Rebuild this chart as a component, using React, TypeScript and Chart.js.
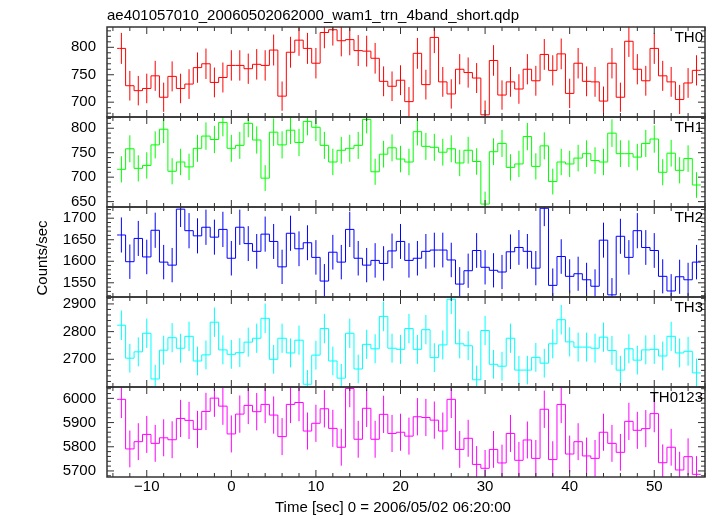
import React, { useEffect, useRef } from 'react';
import { Chart, registerables } from 'chart.js';

Chart.register(...registerables);

const TITLE = 'ae401057010_20060502062000_wam1_trn_4band_short.qdp';
const X_TITLE = 'Time [sec] 0 = 2006/05/02 06:20:00';
const Y_TITLE = 'Counts/sec';

const TIME = [
  -13, -12, -11, -10, -9, -8, -7, -6, -5, -4, -3, -2, -1,
  0, 1, 2, 3, 4, 5, 6, 7, 8, 9,
  10, 11, 12, 13, 14, 15, 16, 17, 18, 19,
  20, 21, 22, 23, 24, 25, 26, 27, 28, 29,
  30, 31, 32, 33, 34, 35, 36, 37, 38, 39,
  40, 41, 42, 43, 44, 45, 46, 47, 48, 49,
  50, 51, 52, 53, 54, 55,
];

const TH0 = [
  798, 730, 721, 725, 748, 709, 747, 725, 733, 763, 770, 736, 745,
  767, 767, 761, 769, 767, 795, 711, 791, 813, 798,
  771, 827, 832, 812, 814, 794, 793, 780, 738, 729,
  740, 701, 789, 732, 818, 737, 715, 760, 754, 744,
  677, 776, 713, 737, 724, 760, 739, 787, 758, 788,
  716, 771, 738, 737, 702, 771, 709, 811, 760, 739,
  798, 748, 737, 705, 735, 758,
];

const TH1 = [
  716, 758, 718, 724, 766, 798, 712, 731, 721, 759, 784, 777, 812,
  759, 765, 810, 776, 698, 792, 766, 796, 771, 814,
  802, 765, 731, 755, 759, 765, 818, 711, 747, 760,
  737, 731, 793, 763, 761, 751, 758, 729, 755, 732,
  645, 752, 769, 720, 727, 783, 722, 764, 691, 731,
  727, 739, 748, 734, 731, 790, 748, 748, 741, 769,
  778, 710, 749, 714, 738, 684,
];

const TH2 = [
  1661, 1599, 1653, 1610, 1672, 1598, 1591, 1721, 1671, 1659, 1679, 1656, 1674,
  1607, 1679, 1641, 1623, 1663, 1646, 1587, 1665, 1629, 1643,
  1609, 1554, 1621, 1598, 1674, 1607, 1591, 1602, 1595, 1624,
  1646, 1602, 1607, 1623, 1626, 1626, 1603, 1547, 1578, 1625,
  1586, 1579, 1575, 1622, 1632, 1623, 1584, 1723, 1544, 1611,
  1565, 1571, 1557, 1542, 1649, 1522, 1658, 1609, 1671, 1632,
  1625, 1565, 1531, 1564, 1557, 1598,
];

const TH3 = [
  2823, 2704, 2727, 2794, 2629, 2733, 2778, 2740, 2783, 2694, 2716, 2834, 2734,
  2718, 2724, 2762, 2776, 2848, 2700, 2776, 2723, 2769, 2610,
  2715, 2811, 2694, 2632, 2794, 2665, 2754, 2738, 2855, 2740,
  2736, 2811, 2736, 2807, 2706, 2752, 2917, 2756, 2749, 2626,
  2804, 2682, 2675, 2776, 2661, 2661, 2707, 2686, 2756, 2843,
  2763, 2744, 2744, 2740, 2780, 2732, 2661, 2738, 2697, 2734,
  2736, 2712, 2783, 2723, 2729, 2651,
];

const TH0123 = [
  5996, 5791, 5821, 5851, 5814, 5837, 5829, 5917, 5909, 5872, 5946, 6001, 5968,
  5853, 5935, 5971, 5945, 5975, 5931, 5842, 5975, 5983, 5865,
  5897, 5957, 5876, 5798, 6041, 5831, 5959, 5831, 5934, 5855,
  5860, 5844, 5924, 5921, 5910, 5865, 5996, 5789, 5835, 5727,
  5711, 5789, 5733, 5855, 5744, 5828, 5752, 5955, 5747, 5975,
  5770, 5821, 5762, 5752, 5860, 5814, 5777, 5905, 5868, 5875,
  5937, 5734, 5798, 5704, 5759, 5686,
];

const X_TICKS = [-10, 0, 10, 20, 30, 40, 50];
const TH0_TICKS = [700, 750, 800];
const TH1_TICKS = [650, 700, 750, 800];
const TH2_TICKS = [1550, 1600, 1650, 1700];
const TH3_TICKS = [2700, 2800, 2900];
const TH0123_TICKS = [5700, 5800, 5900, 6000];

const FONT = '"Liberation Sans", Arial, Helvetica, sans-serif';

const PANELS = [
  { id: 'y0', name: 'TH0', values: TH0, ticks: TH0_TICKS, color: '#ff0000', min: 673, max: 837, major: 50, minor: 10 },
  { id: 'y1', name: 'TH1', values: TH1, ticks: TH1_TICKS, color: '#00ff00', min: 639, max: 823, major: 50, minor: 10 },
  { id: 'y2', name: 'TH2', values: TH2, ticks: TH2_TICKS, color: '#0000ff', min: 1517, max: 1726, major: 50, minor: 10 },
  { id: 'y3', name: 'TH3', values: TH3, ticks: TH3_TICKS, color: '#00ffff', min: 2600, max: 2925, major: 100, minor: 20 },
  { id: 'y4', name: 'TH0123', values: TH0123, ticks: TH0123_TICKS, color: '#ff00ff', min: 5675, max: 6047, major: 100, minor: 20 },
];

const fmtX = (v: number) => (v < 0 ? '\u2212' + Math.abs(v) : String(v));

export default function App() {
  const ref = useRef<HTMLCanvasElement>(null);

  useEffect(() => {
    const canvas = ref.current;
    if (!canvas) return;

    const scales: any = {
      x: {
        type: 'linear',
        position: 'bottom',
        min: -14.7,
        max: 56,
        afterBuildTicks: (s: any) => { s.ticks = X_TICKS.map((v) => ({ value: v })); },
        afterFit: (s: any) => { s.height = 39; },
        ticks: {
          font: { family: FONT, size: 15 },
          color: '#000',
          padding: 1,
          maxRotation: 0,
          autoSkip: false,
          callback: (v: any) => fmtX(Number(v)),
        },
        grid: { display: false, drawTicks: false },
        border: { display: false },
      },
    };

    // Define bottom panel first so that the last (TH0) ends up at the top.
    for (let i = PANELS.length - 1; i >= 0; i--) {
      const p = PANELS[i];
      scales[p.id] = {
        type: 'linear',
        position: 'left',
        stack: 'panels',
        stackWeight: 1,
        min: p.min,
        max: p.max,
        afterBuildTicks: (s: any) => { s.ticks = p.ticks.map((v) => ({ value: v })); },
        afterFit: (s: any) => { s.width = 107; },
        ticks: {
          font: { family: FONT, size: 15 },
          color: '#000',
          padding: 11,
          autoSkip: false,
          callback: (v: any) => String(v),
        },
        grid: { display: false, drawTicks: false },
        border: { display: false },
      };
    }

    const datasets = PANELS.map((p) => {
      const n = TIME.length;
      const pts = [
        { x: TIME[0] - 0.5, y: p.values[0] },
        ...TIME.map((t, i) => ({ x: t, y: p.values[i] })),
        { x: TIME[n - 1] + 0.5, y: p.values[n - 1] },
      ];
      return {
        label: p.name,
        data: pts,
        yAxisID: p.id,
        xAxisID: 'x',
        stepped: 'middle' as const,
        borderColor: p.color,
        borderWidth: 1,
        pointRadius: 0,
        fill: false,
      };
    });

    const decor = {
      id: 'decor',
      afterDatasetsDraw(chart: any) {
        const ctx = chart.ctx as CanvasRenderingContext2D;
        const area = chart.chartArea;
        const xs = chart.scales.x;
        PANELS.forEach((p) => {
          const ys = chart.scales[p.id];
          ctx.save();
          ctx.beginPath();
          ctx.rect(area.left, ys.top, area.right - area.left, ys.bottom - ys.top);
          ctx.clip();
          ctx.strokeStyle = p.color;
          ctx.lineWidth = 1;
          ctx.beginPath();
          TIME.forEach((t, i) => {
            const v = p.values[i];
            const e = Math.sqrt(v);
            const px = xs.getPixelForValue(t);
            ctx.moveTo(px, ys.getPixelForValue(v - e));
            ctx.lineTo(px, ys.getPixelForValue(v + e));
          });
          ctx.stroke();
          ctx.restore();
        });
      },
      afterDraw(chart: any) {
        const ctx = chart.ctx as CanvasRenderingContext2D;
        const area = chart.chartArea;
        const xs = chart.scales.x;
        ctx.save();
        ctx.strokeStyle = '#333';
        ctx.lineWidth = 1;
        PANELS.forEach((p) => {
          const ys = chart.scales[p.id];
          const top = ys.top;
          const bottom = ys.bottom;
          ctx.beginPath();
          for (let v = -14; v <= 56; v += 2) {
            if (v < xs.min || v > xs.max) continue;
            const len = v % 10 === 0 ? 7 : 4;
            const px = xs.getPixelForValue(v);
            ctx.moveTo(px, bottom);
            ctx.lineTo(px, bottom - len);
            ctx.moveTo(px, top);
            ctx.lineTo(px, top + len);
          }
          const start = Math.ceil(p.min / p.minor) * p.minor;
          for (let v = start; v <= p.max; v += p.minor) {
            const len = v % p.major === 0 ? 7 : 4;
            const py = ys.getPixelForValue(v);
            ctx.moveTo(area.left, py);
            ctx.lineTo(area.left + len, py);
            ctx.moveTo(area.right, py);
            ctx.lineTo(area.right - len, py);
          }
          ctx.stroke();
        });
        ctx.lineWidth = 1.5;
        PANELS.forEach((p) => {
          const ys = chart.scales[p.id];
          ctx.strokeRect(area.left, ys.top, area.right - area.left, ys.bottom - ys.top);
        });

        ctx.fillStyle = '#000';
        ctx.font = `15px ${FONT}`;
        ctx.textBaseline = 'alphabetic';
        ctx.textAlign = 'right';
        PANELS.forEach((p) => {
          const ys = chart.scales[p.id];
          ctx.fillText(p.name, area.right - 2, ys.top + 15);
        });
        ctx.textAlign = 'left';
        ctx.fillText(TITLE, area.left, 20);
        ctx.fillText(X_TITLE, 275, 511.5);
        ctx.translate(47, 258);
        ctx.rotate(-Math.PI / 2);
        ctx.textAlign = 'center';
        ctx.fillText(Y_TITLE, 0, 0);
        ctx.restore();
      },
    };

    const chart = new Chart(canvas, {
      type: 'line',
      data: { datasets: datasets as any },
      options: {
        responsive: false,
        devicePixelRatio: 1,
        animation: false,
        events: [],
        layout: { padding: { top: 27, right: 12, left: 0, bottom: 0 } },
        plugins: { legend: { display: false }, tooltip: { enabled: false }, title: { display: false } },
        scales,
      },
      plugins: [decor],
    });

    return () => chart.destroy();
  }, []);

  return (
    <div style={{ position: 'fixed', left: 0, top: 0, width: 717, height: 516, background: '#fff' }}>
      <canvas ref={ref} width={717} height={516} style={{ display: 'block', width: 717, height: 516 }} />
    </div>
  );
}
